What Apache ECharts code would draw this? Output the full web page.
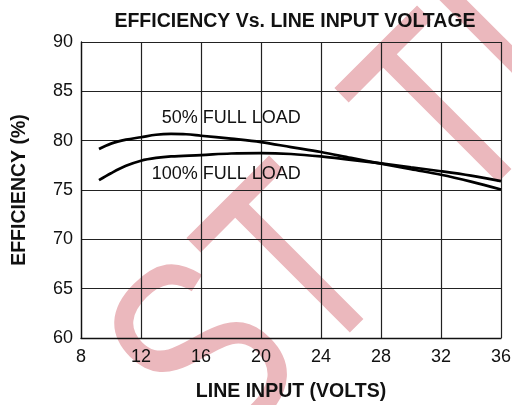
<!doctype html>
<html>
<head>
	<meta charset="UTF-8">
	<title>Efficiency vs. Line Input Voltage</title>
	<script src="https://cdn.jsdelivr.net/npm/echarts@6/dist/echarts.min.js"></script>
	<style>
		html, body {
			margin: 0;
			padding: 0;
			background: #fff;
		}
		#chart {
			width: 512px;
			height: 405px;
		}
	</style>
</head>
<body>
<div id="chart"></div>
<script>
	// values
	var xTicks = [8, 12, 16, 20, 24, 28, 32, 36];
	var yTicks = [60, 65, 70, 75, 80, 85, 90];

	var volts50 = [9.2, 10, 11, 12, 13, 14, 15, 16, 18, 20, 22, 24, 26, 28, 30, 32, 34, 36];
	var eff50 = [79.15, 79.7, 80.1, 80.35, 80.6, 80.68, 80.65, 80.5, 80.2, 79.86, 79.35, 78.85, 78.25, 77.67, 77.1, 76.55, 75.85, 75.05];

	var volts100 = [9.2, 10, 11, 12, 13, 14, 16, 18, 20, 22, 24, 26, 28, 30, 32, 34, 36];
	var eff100 = [76.0, 76.7, 77.45, 77.97, 78.25, 78.4, 78.54, 78.7, 78.74, 78.65, 78.4, 78.05, 77.7, 77.3, 76.9, 76.45, 75.9];

	var curveNames = ["50% FULL LOAD", "100% FULL LOAD"];
	var labelAnchors = [[13.38, 82.3], [12.71, 76.57]];

	var font = "'Liberation Sans', Arial, sans-serif";

	function pairs(xs, ys) {
		return xs.map(function (x, i) {
			return [x, ys[i]];
		});
	}

	// pink watermark letters behind the chart
	var mark = [
		{ch: "S", x: 212, y: 364},
		{ch: "T", x: 305, y: 274},
		{ch: "T", x: 453, y: 124},
		{ch: "I", x: 515, y: 62}
	];
	var markEls = mark.map(function (m, i) {
		return {
			type: "text",
			id: "wm" + i,
			x: m.x,
			y: m.y,
			rotation: Math.PI / 4,
			scaleX: 0.78,
			z: -10,
			silent: true,
			style: {
				text: m.ch,
				font: "265px " + font,
				fill: "#ebb8bd",
				textAlign: "center",
				textVerticalAlign: "middle",
				align: "center",
				verticalAlign: "middle"
			}
		};
	});

	var chart = echarts.init(document.getElementById("chart"));

	var option = {
		animation: false,
		title: {
			text: "EFFICIENCY Vs. LINE INPUT VOLTAGE",
			left: 290,
			textAlign: "center",
			top: 7,
			textStyle: {
				fontFamily: font,
				fontSize: 19.5,
				fontWeight: "bold",
				color: "#111"
			}
		},
		grid: {
			left: 81,
			right: 11,
			top: 42,
			bottom: 67,
			outerBoundsMode: "none"
		},
		xAxis: {
			type: "value",
			min: xTicks[0],
			max: xTicks[xTicks.length - 1],
			interval: 4,
			name: "LINE INPUT (VOLTS)",
			nameLocation: "middle",
			nameGap: 44,
			nameTextStyle: {
				fontFamily: font,
				fontSize: 19.5,
				fontWeight: "bold",
				color: "#111"
			},
			axisLine: {lineStyle: {color: "#111", width: 1.3}},
			axisTick: {show: false},
			axisLabel: {
				margin: 10,
				fontFamily: font,
				fontSize: 18,
				color: "#111"
			},
			splitLine: {show: true, lineStyle: {color: "#222", width: 1.2}}
		},
		yAxis: {
			type: "value",
			min: yTicks[0],
			max: yTicks[yTicks.length - 1],
			interval: 5,
			name: "EFFICIENCY (%)",
			nameLocation: "middle",
			nameRotate: 90,
			nameGap: 51,
			nameTextStyle: {
				fontFamily: font,
				fontSize: 19.5,
				fontWeight: "bold",
				color: "#111"
			},
			axisLine: {show: true, lineStyle: {color: "#111", width: 1.3}},
			axisTick: {show: false},
			axisLabel: {
				margin: 8,
				fontFamily: font,
				fontSize: 18,
				color: "#111"
			},
			splitLine: {show: true, lineStyle: {color: "#222", width: 1.2}}
		},
		graphic: markEls,
		series: [{
			name: curveNames[0],
			type: "line",
			data: pairs(volts50, eff50),
			smooth: 0.35,
			showSymbol: false,
			lineStyle: {color: "#000", width: 2.7}
		}, {
			name: curveNames[1],
			type: "line",
			data: pairs(volts100, eff100),
			smooth: 0.35,
			showSymbol: false,
			lineStyle: {color: "#000", width: 2.7}
		}]
	};
	chart.setOption(option);

	// curve names placed at data positions
	var labelEls = curveNames.map(function (name, i) {
		var p = chart.convertToPixel({gridIndex: 0}, labelAnchors[i]);
		return {
			type: "text",
			id: "lbl" + i,
			x: p[0],
			y: p[1],
			z: 10,
			silent: true,
			style: {
				text: name,
				font: "18px " + font,
				fill: "#111",
				textAlign: "left",
				textVerticalAlign: "middle",
				align: "left",
				verticalAlign: "middle"
			}
		};
	});
	chart.setOption({graphic: markEls.concat(labelEls)});
</script>
</body>
</html>
